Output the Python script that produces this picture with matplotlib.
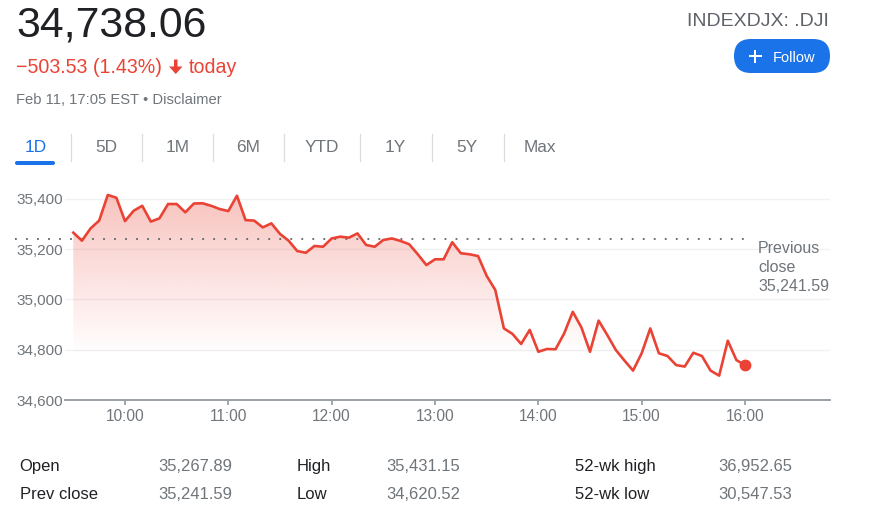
import matplotlib
matplotlib.use('Agg')
import matplotlib.pyplot as plt
import numpy as np
from matplotlib.patches import FancyBboxPatch, Polygon
from matplotlib.transforms import blended_transform_factory

# ---------------- data ----------------
minutes_after_open = np.arange(0, 391, 5)          # 9:30 .. 16:00, 5-minute bars
prices = [35266, 35234, 35283, 35314, 35416, 35405, 35312, 35353, 35373, 35310,
          35323, 35380, 35380, 35347, 35382, 35383, 35373, 35360, 35352, 35413,
          35316, 35314, 35287, 35303, 35261, 35234, 35193, 35186, 35213, 35210,
          35243, 35250, 35246, 35263, 35217, 35210, 35237, 35243, 35233, 35220,
          35180, 35137, 35160, 35160, 35228, 35184, 35180, 35173, 35094, 35038,
          34885, 34863, 34823, 34879, 34792, 34803, 34802, 34865, 34951, 34889,
          34792, 34916, 34859, 34799, 34757, 34717, 34786, 34885, 34786, 34775,
          34739, 34733, 34788, 34775, 34717, 34697, 34836, 34759, 34738.06]
prev_close = 35241.59
last_price = 34738.06
change = -503.53
change_pct = 1.43
timestamp = "Feb 11, 17:05 EST"
ticker = "INDEXDJX: .DJI"
tabs = ['1D', '5D', '1M', '6M', 'YTD', '1Y', '5Y', 'Max']
y_ticks = [34600, 34800, 35000, 35200, 35400]
x_ticks = [10, 11, 12, 13, 14, 15, 16]
x_tick_labels = ['10:00', '11:00', '12:00', '13:00', '14:00', '15:00', '16:00']
stat_labels_1 = ['Open', 'Prev close']
stat_values_1 = ['35,267.89', '35,241.59']
stat_labels_2 = ['High', 'Low']
stat_values_2 = ['35,431.15', '34,620.52']
stat_labels_3 = ['52-wk high', '52-wk low']
stat_values_3 = ['36,952.65', '30,547.53']

# ---------------- style ----------------
W, H, DPI = 879, 526, 100
RED = '#ea4335'
BLUE = '#1a73e8'
GRAY = '#70757a'
DARK = '#202124'
plt.rcParams['font.family'] = ['Liberation Sans', 'DejaVu Sans']
PT = 72.0 / DPI   # points per pixel

fig = plt.figure(figsize=(W / DPI, H / DPI), dpi=DPI)
fig.patch.set_facecolor('white')

# chart axes, pixel box
L, R, T, B = 65, 830, 185, 400
ax = fig.add_axes([L / W, 1 - B / H, (R - L) / W, (B - T) / H], zorder=1)
ax.set_facecolor('none')

# overlay in pixel coordinates (y downward), drawn above the chart
ov = fig.add_axes([0, 0, 1, 1], zorder=2)
ov.set_xlim(0, W)
ov.set_ylim(H, 0)
ov.axis('off')

x = 9.5 + minutes_after_open / 60.0
v = np.array(prices, dtype=float)

px_per_hour = (745 - 125) / 6.0
xmin = 10 + (L - 125) / px_per_hour
xmax = 16 + (R - 745) / px_per_hour
ymin = 34600
ymax = 34600 + (B - T) * 800 / 201.0
ax.set_xlim(xmin, xmax)
ax.set_ylim(ymin, ymax)

# gradient fill under line
ny = 300
yy = np.linspace(ymax, ymin, ny)
alpha = np.clip((yy - 34780) / (35420 - 34780), 0, 1) * 0.32
img = np.zeros((ny, 2, 4))
img[..., :3] = matplotlib.colors.to_rgb(RED)
img[..., 3] = alpha[:, None]
im = ax.imshow(img, extent=[x[0], x[-1], ymin, ymax], aspect='auto',
               origin='upper', interpolation='bilinear', zorder=1)
poly = Polygon(np.column_stack([np.r_[x, x[-1], x[0]], np.r_[v, ymin, ymin]]),
               closed=True, facecolor='none', edgecolor='none',
               transform=ax.transData)
ax.add_patch(poly)
im.set_clip_path(poly)

ax.plot(x, v, color=RED, lw=1.9, solid_joinstyle='round', zorder=3)
ax.plot([x[-1]], [v[-1]], 'o', color=RED, ms=7.5, zorder=4)

# previous close dotted line
bt = blended_transform_factory(ov.transData, ax.transData)
ax.plot([15, 750], [prev_close, prev_close], transform=bt, clip_on=False,
        color='#5f6368', lw=1.3, linestyle=(0, (1, 5.1)), zorder=2)

# axes styling
for s in ['top', 'right', 'left']:
    ax.spines[s].set_visible(False)
ax.spines['bottom'].set_color('#9aa0a6')
ax.spines['bottom'].set_linewidth(1.4)
ax.set_yticks(y_ticks)
ax.set_yticklabels([f'{t:,}' for t in y_ticks])
ax.set_xticks(x_ticks)
ax.set_xticklabels(x_tick_labels)
ax.tick_params(axis='y', length=0, pad=2 * PT, labelsize=11, labelcolor=GRAY)
ax.tick_params(axis='x', length=5 * PT, width=1.3, color='#9aa0a6', pad=3,
               labelsize=11.2, labelcolor=GRAY, direction='out')
for t in y_ticks[1:]:
    ax.axhline(t, color='#f0f1f2', lw=1.0, zorder=0)

# ---------------- header ----------------
ov.text(16, 36.5, f'{last_price:,.2f}', fontsize=30.8, color=DARK, va='baseline', ha='left')
ov.text(16, 73.3, f'\u2212{abs(change):,.2f} ({change_pct:.2f}%)', fontsize=14.1,
        color=RED, va='baseline', ha='left')
# down arrow
ov.add_patch(Polygon([[174, 59.5], [177.5, 59.5], [177.5, 66.5], [182.5, 66.5],
                      [175.75, 74], [169, 66.5], [174, 66.5]], closed=True,
                     facecolor=RED, edgecolor='none'))
ov.text(189, 73.3, 'today', fontsize=14.1, color=RED, va='baseline', ha='left')
ov.text(16, 104.5, f'{timestamp} \u2022 Disclaimer', fontsize=10.6, color=GRAY,
        va='baseline', ha='left')

ov.text(829, 25.7, ticker, fontsize=14, color='#5f6368', va='baseline', ha='right')
ov.add_patch(FancyBboxPatch((734, 39), 96, 34, boxstyle='round,pad=0,rounding_size=17',
                            facecolor=BLUE, edgecolor='none'))
ov.plot([749, 762], [56, 56], color='white', lw=2 * PT, solid_capstyle='butt')
ov.plot([755.5, 755.5], [49.5, 62.5], color='white', lw=2 * PT, solid_capstyle='butt')
ov.text(773, 61.5, 'Follow', fontsize=10.5, color='white', va='baseline', ha='left')

# ---------------- tabs ----------------
tab_centers = [35.4, 106, 178, 248, 322, 395, 467, 540]
tab_seps = [70.8, 141.6, 213.2, 284.3, 360.5, 431.7, 503.6]
for i, (lab, cx) in enumerate(zip(tabs, tab_centers)):
    ov.text(cx, 152.5, lab, fontsize=12.4, color=BLUE if i == 0 else GRAY,
            va='baseline', ha='center')
for sx in tab_seps:
    ov.plot([sx, sx], [134, 161], color='#dadce0', lw=0.9)
ov.add_patch(FancyBboxPatch((15, 161), 40, 4, boxstyle='round,pad=0,rounding_size=2',
                            facecolor=BLUE, edgecolor='none'))

# ---------------- previous close label ----------------
ov.text(758, 253.3, 'Previous', fontsize=11.5, color=GRAY, va='baseline', ha='left')
ov.text(758, 272.3, 'close', fontsize=11.5, color=GRAY, va='baseline', ha='left')
ov.text(758, 291, f'{prev_close:,.2f}', fontsize=11.5, color=GRAY, va='baseline', ha='left')

# ---------------- stats table ----------------
row_base = [470.6, 498.6]
cols = [(19.6, stat_labels_1, 158.6, stat_values_1),
        (297, stat_labels_2, 386.8, stat_values_2),
        (574.6, stat_labels_3, 718.7, stat_values_3)]
for lx, labs, vx, vals in cols:
    for yb, lab, val in zip(row_base, labs, vals):
        ov.text(lx, yb, lab, fontsize=12, color=DARK, va='baseline', ha='left')
        ov.text(vx, yb, val, fontsize=12, color=GRAY, va='baseline', ha='left')

fig.savefig('out.png', dpi=DPI, facecolor='white')
